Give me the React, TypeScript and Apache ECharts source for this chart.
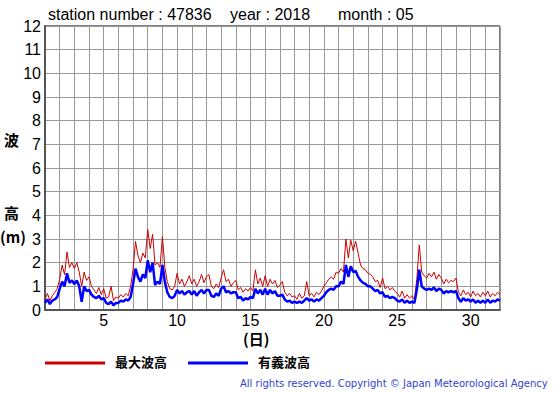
import React, { useEffect, useRef } from "react";
import * as echarts from "echarts";

const titleStation = "station number : 47836";
const titleYear = "year : 2018";
const titleMonth = "month : 05";
const seriesNames = ["最大波高", "有義波高"];
const xTickLabels = [5, 10, 15, 20, 25, 30];
const yTickLabels = [0, 1, 2, 3, 4, 5, 6, 7, 8, 9, 10, 11, 12];
const samplesPerDay = 6;

// 4-hourly readings, day 1 00h .. day 32 00h
const maxWave = [
  0.45, 0.7, 0.4, 0.6, 0.75, 0.9,
  1.3, 1.9, 1.5, 2.45, 1.8, 2.0,
  1.75, 2.0, 1.6, 1.0, 1.6, 1.25,
  1.4, 1.0, 0.85, 0.7, 0.95, 0.65,
  0.9, 0.5, 0.55, 1.0, 0.4, 0.55,
  0.5, 0.65, 0.55, 0.7, 0.6, 1.0,
  1.7, 2.9, 2.3, 2.0, 2.4, 2.2,
  3.4, 2.6, 3.2, 1.9, 2.0, 1.8,
  3.1, 1.8, 1.2, 0.9, 0.85, 1.0,
  1.55, 1.1, 1.3, 1.0, 1.2, 1.45,
  1.1, 1.3, 1.0, 1.2, 1.5, 1.15,
  1.4, 1.5, 1.0, 0.9, 1.1, 0.95,
  1.35, 1.7, 1.2, 1.3, 1.0, 1.15,
  1.25, 0.85, 0.95, 0.75, 0.9, 0.8,
  0.95, 0.8, 1.7, 1.1, 1.35, 1.0,
  1.45, 1.0, 1.3, 1.1, 1.25, 0.95,
  1.05, 1.2, 0.75, 0.6, 0.7, 0.55,
  0.6, 0.45, 0.7, 0.5, 0.6, 1.2,
  0.6, 0.7, 0.55, 0.75, 0.65, 0.8,
  1.0, 1.15, 1.3, 1.4, 1.3, 1.6,
  1.55, 1.75, 1.6, 3.0, 2.2, 2.95,
  2.5, 2.9, 2.4, 1.9, 1.75, 1.7,
  1.55, 1.5, 1.4, 1.2, 1.25, 0.95,
  1.35, 0.9, 1.0, 0.85, 0.95, 0.8,
  0.7, 0.55, 0.8, 0.5, 0.65, 0.5,
  0.6, 0.45, 1.3, 2.75, 1.6, 1.45,
  1.35, 1.55, 1.4, 1.6, 1.3, 1.5,
  1.35, 1.1, 1.3, 1.15, 1.25, 1.2,
  1.35, 0.75, 0.6, 0.85, 0.65, 0.75,
  0.55, 0.8, 0.6, 0.7, 0.55, 0.75,
  0.6, 0.8, 0.55, 0.7, 0.6, 0.75,
  0.65,
];

const sigWave = [
  0.3, 0.45, 0.25, 0.4, 0.45, 0.55,
  0.9, 1.2, 1.0, 1.55, 1.15, 1.25,
  1.1, 1.25, 1.0, 0.35, 1.0, 0.8,
  0.85, 0.65, 0.55, 0.5, 0.6, 0.45,
  0.5, 0.3, 0.25, 0.35, 0.2, 0.3,
  0.3, 0.4, 0.35, 0.45, 0.4, 0.55,
  1.1, 1.75, 1.4, 1.2, 1.5, 1.35,
  2.1, 1.6, 2.0, 1.05, 1.2, 1.1,
  1.9, 1.2, 0.75, 0.55, 0.5, 0.6,
  0.85, 0.7, 0.8, 0.65, 0.75, 0.8,
  0.65, 0.8, 0.6, 0.75, 0.85, 0.7,
  0.85, 0.85, 0.6, 0.55, 0.7, 0.6,
  0.9, 1.0, 0.75, 0.8, 0.7, 0.75,
  0.75, 0.5, 0.55, 0.4, 0.5, 0.45,
  0.55, 0.5, 0.9, 0.7, 0.85, 0.65,
  0.9, 0.65, 0.85, 0.7, 0.8, 0.6,
  0.6, 0.65, 0.45, 0.35, 0.4, 0.3,
  0.35, 0.3, 0.35, 0.3, 0.4, 0.5,
  0.4, 0.45, 0.35, 0.45, 0.4, 0.5,
  0.6, 0.75, 0.85, 0.9, 0.85, 1.0,
  1.0, 1.2, 1.1, 1.9, 1.4, 1.85,
  1.6, 1.65, 1.4, 1.25, 1.15, 1.1,
  1.0, 1.0, 0.9, 0.8, 0.85, 0.7,
  0.75, 0.55, 0.6, 0.5, 0.55, 0.5,
  0.4, 0.35, 0.45, 0.3, 0.4, 0.3,
  0.35, 0.3, 0.85, 1.7, 1.0, 0.9,
  0.85, 0.9, 0.85, 0.95, 0.8, 0.9,
  0.85, 0.7, 0.8, 0.75, 0.8, 0.75,
  0.8, 0.5, 0.35, 0.5, 0.4, 0.45,
  0.35, 0.45, 0.3, 0.4, 0.3, 0.4,
  0.3, 0.45, 0.3, 0.4, 0.35, 0.45,
  0.4,
];

const toPairs = (arr: number[]) => arr.map((v, i) => [1 + i / samplesPerDay, v]);

export default function App() {
  const ref = useRef<HTMLDivElement>(null);
  useEffect(() => {
    if (!ref.current) return;
    const chart = echarts.init(ref.current, null, { renderer: "svg" });
    const font = "'Liberation Sans', Arial, sans-serif";
    const cjk = "'Noto Sans CJK JP', sans-serif";
    chart.setOption({
      animation: false,
      backgroundColor: "#fff",
      grid: {
        left: 45,
        top: 26,
        width: 455,
        height: 284,
        show: true,
        borderColor: "#000",
        borderWidth: 1,
      },
      xAxis: {
        type: "value",
        min: 1,
        max: 32,
        interval: 1,
        axisLine: { show: true, lineStyle: { color: "#555", width: 2 } },
        axisTick: { show: false },
        axisLabel: {
          color: "#000",
          fontSize: 16,
          fontFamily: font,
          margin: 2,
          lineHeight: 16,
          showMinLabel: false,
          showMaxLabel: false,
          formatter: (v: number) => (xTickLabels.includes(v) ? String(v) : ""),
        },
        splitLine: { show: true, lineStyle: { color: "#999", width: 1 } },
      },
      yAxis: {
        type: "value",
        min: yTickLabels[0],
        max: yTickLabels[yTickLabels.length - 1],
        interval: 1,
        axisLine: { show: true, lineStyle: { color: "#555", width: 2 } },
        axisTick: { show: false },
        axisLabel: { color: "#000", fontSize: 16, fontFamily: font, margin: 4 },
        splitLine: { show: true, lineStyle: { color: "#999", width: 1 } },
      },
      series: [
        {
          name: seriesNames[0],
          type: "line",
          data: toPairs(maxWave),
          showSymbol: false,
          lineStyle: { color: "#cc0000", width: 1 },
          z: 2,
        },
        {
          name: seriesNames[1],
          type: "line",
          data: toPairs(sigWave),
          showSymbol: false,
          lineStyle: { color: "#0000ff", width: 2.5 },
          z: 3,
        },
      ],
      graphic: [
        { type: "text", left: 48, top: 6, style: { text: titleStation, font: `16px ${font}`, fill: "#000" } },
        { type: "text", left: 230, top: 6, style: { text: titleYear, font: `16px ${font}`, fill: "#000" } },
        { type: "text", left: 338, top: 6, style: { text: titleMonth, font: `16px ${font}`, fill: "#000" } },
        { type: "text", left: 4, top: 132, style: { text: "波", font: `bold 15px ${cjk}`, fill: "#000" } },
        { type: "text", left: 4, top: 205, style: { text: "高", font: `bold 15px ${cjk}`, fill: "#000" } },
        { type: "text", left: 0, top: 229, style: { text: "(m)", font: `bold 15px ${cjk}`, fill: "#000" } },
        { type: "text", left: 243, top: 331, style: { text: "(日)", font: `bold 15px ${cjk}`, fill: "#000", lineHeight: 15 } },
        { type: "line", shape: { x1: 45, y1: 363, x2: 105, y2: 363 }, style: { stroke: "#cc0000", lineWidth: 3 } },
        { type: "text", left: 115, top: 355, style: { text: seriesNames[0], font: `bold 13px ${cjk}`, fill: "#000" } },
        { type: "line", shape: { x1: 188, y1: 363, x2: 248, y2: 363 }, style: { stroke: "#0000ff", lineWidth: 3 } },
        { type: "text", left: 258, top: 355, style: { text: seriesNames[1], font: `bold 13px ${cjk}`, fill: "#000" } },
        {
          type: "text",
          left: 240,
          top: 378,
          style: {
            text: "All rights reserved. Copyright © Japan Meteorological Agency",
            font: `10px 'DejaVu Sans', sans-serif`,
            fill: "#3344cc",
          },
        },
      ],
    });
    return () => chart.dispose();
  }, []);
  return (
    <div
      ref={ref}
      style={{ position: "fixed", left: 0, top: 0, width: 555, height: 395 }}
    />
  );
}
